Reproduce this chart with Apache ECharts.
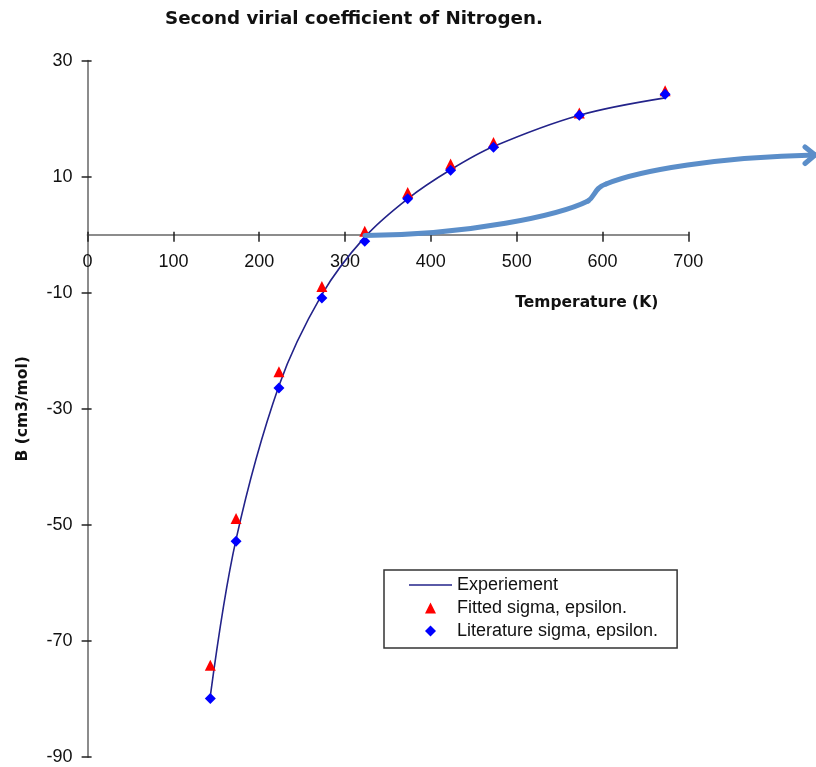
<!DOCTYPE html>
<html>
<head>
<meta charset="utf-8">
<title>Second virial coefficient of Nitrogen</title>
<script src="https://cdn.jsdelivr.net/npm/echarts@6/dist/echarts.min.js"></script>
<style>
  html, body { margin: 0; padding: 0; background: #ffffff; }
  #chart { width: 816px; height: 767px; }
</style>
</head>
<body>
<div id="chart"></div>
<script>
// Temperatures (K) at which B was measured / computed
const temperatures = [143, 173, 223, 273, 323, 373, 423, 473, 573, 673];

// Second virial coefficient B (cm3/mol)
const experimentB = [-79.5, -52.5, -26.0, -10.3, -0.4, 6.2, 11.2, 15.2, 20.6, 23.6];
const fittedB     = [-74.2, -48.9, -23.6, -8.9, 0.6, 7.3, 12.2, 15.9, 21.0, 24.8];
const literatureB = [-79.9, -52.8, -26.4, -10.9, -1.1, 6.2, 11.1, 15.1, 20.6, 24.2];

// Axis ranges and tick steps
const xRange = { min: 0, max: 700, step: 100 };
const yRange = { min: -90, max: 30, step: 20 };

const pairs = ys => temperatures.map((t, i) => [t, ys[i]]);

const chart = echarts.init(document.getElementById('chart'), null, { renderer: 'canvas' });

const labelFont = { fontFamily: '"Liberation Sans", Arial, sans-serif', fontSize: 18, color: '#111' };
const boldFont = 'DejaVu Sans, Verdana, sans-serif';

// Plot area in pixels; the temperature axis sits on B = 0
const plot = { left: 87.6, right: 127.7, top: 60.7, bottom: 10 };
const plotHeight = 767 - plot.top - plot.bottom;
const zeroFromBottom = plot.bottom + plotHeight * (0 - yRange.min) / (yRange.max - yRange.min);

// Callout arrow: three bezier pieces plus an open arrow head
const arrowStyle = { fill: 'none', stroke: '#5b8ec9', lineWidth: 5, lineCap: 'round', lineJoin: 'round' };
const arrowCurves = [
  { x1: 365, y1: 235.5, cpx1: 470, cpy1: 235, cpx2: 560, cpy2: 215, x2: 588, y2: 201 },
  { x1: 588, y1: 201, cpx1: 595, cpy1: 197, cpx2: 594, cpy2: 188, x2: 606, y2: 184 },
  { x1: 606, y1: 184, cpx1: 640, cpy1: 170, cpx2: 720, cpy2: 157, x2: 815, y2: 155 }
];

// Legend icons padded out to the icon box so the marker keeps its shape
const iconLine = 'path://M0,0h43v1.6h-43z';
const iconTriangle = 'path://M0,0M43,11M16,11L21.5,0L27,11Z';
const iconDiamond = 'path://M0,0M43,11M21.5,0L27,5.5L21.5,11L16,5.5Z';

chart.setOption({
  animation: false,
  backgroundColor: '#ffffff',
  title: {
    text: 'Second virial coefficient of Nitrogen.',
    left: 165,
    top: 10,
    padding: 0,
    textStyle: { fontFamily: boldFont, fontWeight: 'bold', fontSize: 18.3, color: '#111' }
  },
  grid: [
    { left: plot.left, right: plot.right, top: plot.top, bottom: plot.bottom,
      containLabel: false, outerBoundsMode: 'none' },
    { left: plot.left, right: plot.right, top: plot.top, bottom: zeroFromBottom,
      containLabel: false, outerBoundsMode: 'none' }
  ],
  legend: {
    orient: 'vertical',
    left: 384,
    top: 570,
    padding: [6, 19, 8, 25],
    itemGap: 5,
    itemWidth: 43,
    itemHeight: 11,
    backgroundColor: '#ffffff',
    borderColor: '#333333',
    borderWidth: 1.5,
    borderRadius: 0,
    textStyle: { fontFamily: '"Liberation Sans", Arial, sans-serif', fontSize: 18, color: '#111' },
    data: [
      { name: 'Experiement', icon: iconLine },
      { name: 'Fitted sigma, epsilon.', icon: iconTriangle },
      { name: 'Literature sigma, epsilon.', icon: iconDiamond }
    ]
  },
  xAxis: [
    {
      // temperature axis drawn along B = 0
      type: 'value', gridIndex: 1, position: 'bottom',
      min: xRange.min, max: xRange.max, interval: xRange.step,
      name: 'Temperature (K)',
      nameLocation: 'end',
      nameGap: -30,
      nameTextStyle: {
        fontFamily: boldFont, fontWeight: 'bold', fontSize: 15.5, color: '#111',
        align: 'right', verticalAlign: 'top', padding: [60, 0, 0, 0]
      },
      axisLine: { show: true, onZero: false, lineStyle: { color: '#8c8c8c', width: 2 } },
      axisTick: { show: true, inside: false, length: 7, lineStyle: { color: '#222', width: 1.5 } },
      axisLabel: Object.assign({ margin: 18 }, labelFont),
      splitLine: { show: false }
    },
    {
      // upper half of the crossing tick marks
      type: 'value', gridIndex: 1, position: 'bottom',
      min: xRange.min, max: xRange.max, interval: xRange.step,
      axisLine: { show: false, onZero: false },
      axisTick: { show: true, inside: true, length: 3, lineStyle: { color: '#222', width: 1.5 } },
      axisLabel: { show: false },
      splitLine: { show: false }
    },
    {
      // scale for the plotted data
      type: 'value', gridIndex: 0, show: false,
      min: xRange.min, max: xRange.max, interval: xRange.step
    }
  ],
  yAxis: [
    {
      type: 'value', gridIndex: 0,
      min: yRange.min, max: yRange.max, interval: yRange.step,
      name: 'B (cm3/mol)',
      nameLocation: 'middle',
      nameGap: 57,
      nameTextStyle: { fontFamily: boldFont, fontWeight: 'bold', fontSize: 15.5, color: '#111' },
      axisLine: { show: true, onZero: false, lineStyle: { color: '#8c8c8c', width: 2 } },
      axisTick: { show: true, inside: false, length: 6, lineStyle: { color: '#222', width: 1.5 } },
      axisLabel: Object.assign({ margin: 15 }, labelFont),
      splitLine: { show: false }
    },
    {
      type: 'value', gridIndex: 0, position: 'left', offset: 0,
      min: yRange.min, max: yRange.max, interval: yRange.step,
      axisLine: { show: false, onZero: false },
      axisTick: { show: true, inside: true, length: 4, lineStyle: { color: '#222', width: 1.5 } },
      axisLabel: { show: false },
      splitLine: { show: false }
    },
    {
      type: 'value', gridIndex: 1, show: false,
      min: 0, max: yRange.max
    }
  ],
  series: [
    {
      name: 'Experiement',
      type: 'line',
      xAxisIndex: 2, yAxisIndex: 0,
      data: pairs(experimentB),
      smooth: 0.35,
      symbol: 'none',
      lineStyle: { color: '#23238a', width: 1.6 },
      itemStyle: { color: '#23238a' },
      z: 2
    },
    {
      name: 'Fitted sigma, epsilon.',
      type: 'scatter',
      xAxisIndex: 2, yAxisIndex: 0,
      data: pairs(fittedB),
      symbol: 'triangle',
      symbolSize: 11,
      itemStyle: { color: '#ff0000', opacity: 1 },
      z: 3
    },
    {
      name: 'Literature sigma, epsilon.',
      type: 'scatter',
      xAxisIndex: 2, yAxisIndex: 0,
      data: pairs(literatureB),
      symbol: 'diamond',
      symbolSize: 11,
      itemStyle: { color: '#0000ff', opacity: 1 },
      z: 4
    }
  ],
  graphic: arrowCurves.map(c => ({
    type: 'bezierCurve', z: 100, silent: true, shape: c, style: arrowStyle
  })).concat([{
    type: 'polyline', z: 100, silent: true,
    shape: { points: [[805, 147], [815, 155], [805, 163.5]] },
    style: arrowStyle
  }])
});
</script>
</body>
</html>
